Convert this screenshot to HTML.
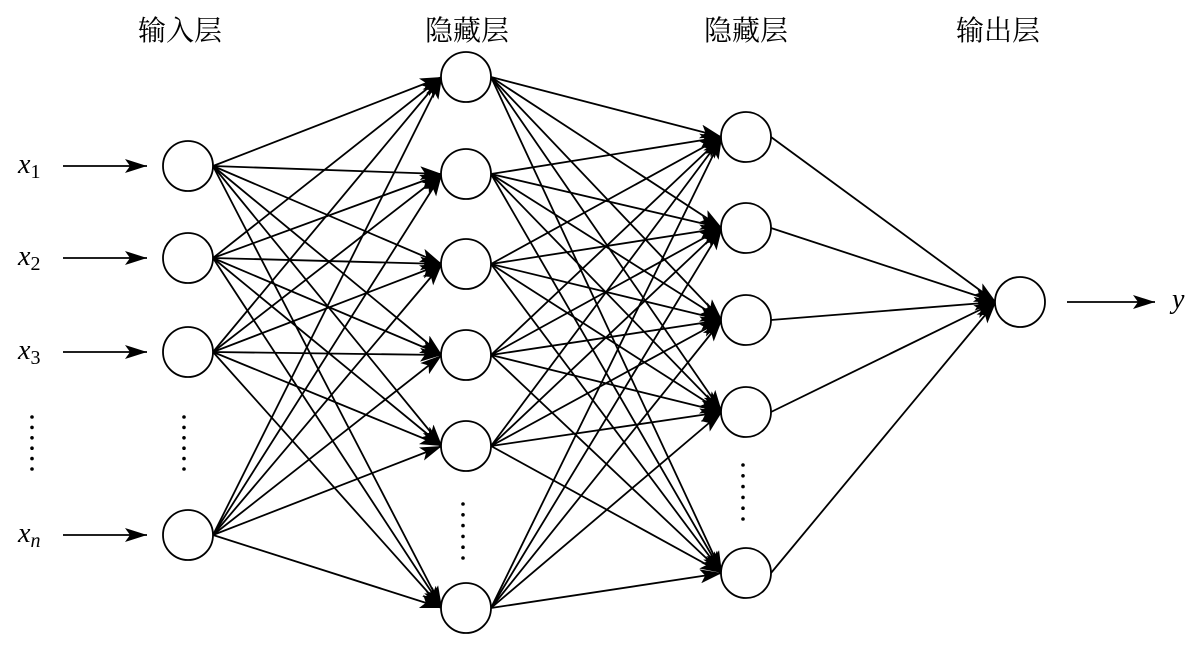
<!DOCTYPE html>
<html><head><meta charset="utf-8"><style>
html,body{margin:0;padding:0;background:#fff;}
svg{display:block;}
text{font-family:"Liberation Serif","Noto Serif CJK SC",serif;fill:#000;}
</style></head><body>
<svg id="s" width="1197" height="649" viewBox="0 0 1197 649" xmlns="http://www.w3.org/2000/svg">
<defs>
<marker id="a" markerUnits="userSpaceOnUse" markerWidth="24" markerHeight="16" refX="22" refY="7" orient="auto">
<path d="M0,0 L22,7 L0,14 L5,7 Z" fill="#000"/>
</marker>
</defs>
<g font-size="28" text-anchor="middle">
<text x="180" y="40">输入层</text>
<text x="467" y="40">隐藏层</text>
<text x="746" y="40">隐藏层</text>
<text x="998" y="40">输出层</text>
</g>
<g font-size="28" font-style="italic">
<text x="18" y="173">x<tspan font-size="20" font-style="normal" dy="5">1</tspan></text>
<text x="18" y="265">x<tspan font-size="20" font-style="normal" dy="5">2</tspan></text>
<text x="18" y="359">x<tspan font-size="20" font-style="normal" dy="5">3</tspan></text>
<text x="18" y="542">x<tspan font-size="20" dy="5">n</tspan></text>
<text x="1172" y="308">y</text>
</g>
<g id="g" stroke="#000" stroke-width="1.8" fill="none"></g>
<g id="d" fill="#000"></g>
</svg>
<script>
var NS="http://www.w3.org/2000/svg",g=document.getElementById('g'),d=document.getElementById('d');
function L(x1,y1,x2,y2,m){var l=document.createElementNS(NS,'line');l.setAttribute('x1',x1);l.setAttribute('y1',y1);l.setAttribute('x2',x2);l.setAttribute('y2',y2);if(m)l.setAttribute('marker-end','url(#a)');g.appendChild(l);}
function C(x,y){var c=document.createElementNS(NS,'ellipse');c.setAttribute('cx',x);c.setAttribute('cy',y);c.setAttribute('rx',25);c.setAttribute('ry',25);c.setAttribute('fill','#fff');g.appendChild(c);}
function D(x,y0,y1){for(var i=0;i<6;i++){var c=document.createElementNS(NS,'circle');c.setAttribute('cx',x);c.setAttribute('cy',y0+(y1-y0)*i/5);c.setAttribute('r',1.8);d.appendChild(c);}}
var A=[166,258,352,535],B=[77,174,264,355,446,608],Cc=[137,228,320,412,573];
var xa=188,xb=466,xc=746,xo=1020,yo=302;
A.forEach(function(y){L(63,y,147,y,1);});
L(1067,yo,1155,yo,1);
A.forEach(function(a){B.forEach(function(b){L(xa+25,a,xb-24,b,1);});});
B.forEach(function(b){Cc.forEach(function(c){L(xb+25,b,xc-24,c,1);});});
Cc.forEach(function(c){L(xc+25,c,xo-24,yo,1);});
A.forEach(function(y){C(xa,y);});B.forEach(function(y){C(xb,y);});Cc.forEach(function(y){C(xc,y);});C(xo,yo);
D(32,417,469);D(184,417,469);D(463,504,558);D(743,465,519);
</script>
</body></html>
